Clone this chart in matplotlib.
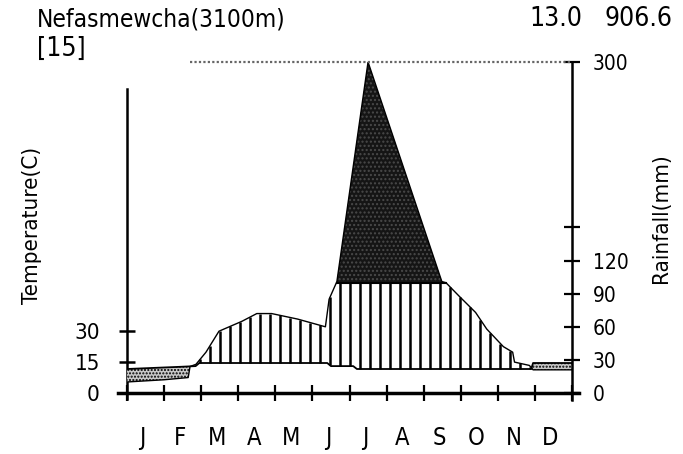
import numpy as np
import matplotlib
matplotlib.use("Agg")
import matplotlib.pyplot as plt

plt.rcParams['font.family'] = ['DejaVu Sans']
plt.rcParams['font.stretch'] = 'condensed'

# ---- data ----
station = "Nefasmewcha(3100m)"
years_label = "[15]"
mean_temp = "13.0"
annual_rain = "906.6"
months = ["J", "F", "M", "A", "M", "J", "J", "A", "S", "O", "N", "D"]

# rainfall trace (x in months from start of Jan, value in mm)
rain_x = [0.0, 1.0, 1.65, 1.7, 1.86, 2.13, 2.48, 3.1, 3.5, 3.9, 4.6, 5.35, 5.45, 5.66,
          6.5, 8.49, 8.6, 8.95, 9.4, 9.7, 10.15, 10.4, 10.45, 10.85, 10.95, 12.0]
rain_mm = [10, 12, 14, 24, 26, 37, 56, 65, 72, 72, 67, 60, 85, 101,
           300, 101, 100, 88, 73, 58, 42, 37, 28, 25, 21, 21]

# temperature trace (x in months, value in deg C)
temp_x = [0.0, 1.0, 1.85, 1.95, 5.4, 5.5, 6.1, 6.2, 10.9, 10.95, 12.0]
temp_c = [11.6, 12.3, 13.0, 14.5, 14.5, 13.0, 13.0, 11.6, 11.6, 14.5, 14.5]

T_TOP = 160.0   # left axis top (deg C)
P_TOP = 300.0   # right axis top (mm)

fig = plt.figure(figsize=(6.83, 4.54), dpi=100)
ax = fig.add_axes([127/683, 61/454, 445/683, 331/454])
ax2 = ax.twinx()

ax.set_xlim(0, 12)
ax.set_ylim(0, T_TOP)
ax2.set_ylim(0, P_TOP)

xs = np.linspace(0, 12, 2401)
P = np.interp(xs, rain_x, rain_mm)
T = np.interp(xs, temp_x, temp_c) * P_TOP / T_TOP   # temperature in rain units

# arid (stippled)
ax2.fill_between(xs, T, P, where=T > P, interpolate=True, facecolor='#c8c8c8',
                 edgecolor='black', hatch='.....', linewidth=0)
# perhumid (black, above 100 mm)
ax2.fill_between(xs, 100, P, where=P > 100, interpolate=True, facecolor='#151515',
                 edgecolor='#4a4a4a', hatch='....', linewidth=0)

# humid: vertical hatch lines between temperature and min(rain,100)
hx = np.arange(0.08, 12, 0.27)
hp = np.minimum(np.interp(hx, rain_x, rain_mm), 100)
ht = np.interp(hx, temp_x, temp_c) * P_TOP / T_TOP
m = hp > ht + 1
ax2.vlines(hx[m], ht[m], hp[m], color='black', lw=1.8)

# outlines
ax2.plot(rain_x, rain_mm, color='black', lw=1.0)
ax2.plot(xs, T, color='black', lw=1.3)
ax2.plot(xs[P >= 100], np.full((P >= 100).sum(), 100), color='black', lw=1.5)

# top dotted line
ax2.plot([1.7, 12], [P_TOP, P_TOP], color='#666666', lw=1.6, ls=(0, (1, 1)), clip_on=False)

# spines
for a in (ax, ax2):
    a.spines['top'].set_visible(False)
ax2.spines['left'].set_visible(False)
ax2.spines['bottom'].set_visible(False)
ax.spines['right'].set_visible(False)
ax.spines['left'].set_bounds(-3, 147)
ax.spines['left'].set_linewidth(1.8)
ax2.spines['right'].set_bounds(-6, P_TOP)
ax2.spines['right'].set_linewidth(1.8)
ax.spines['bottom'].set_bounds(-0.25, 12.2)
ax.spines['bottom'].set_linewidth(2.5)

# x ticks
ax.set_xticks(np.arange(0, 13))
ax.set_xticklabels([])
ax.tick_params(axis='x', which='major', direction='inout', length=12, width=1.6)
ax.set_xticks(np.arange(0.42, 12, 1), minor=True)
ax.set_xticklabels(months, minor=True)
ax.tick_params(axis='x', which='minor', length=0, pad=24, labelsize=17)

# left ticks
ax.set_yticks([0, 15, 30])
ax.set_yticklabels(['0', '15', '30'])
ax.tick_params(axis='y', direction='inout', length=11, width=1.8, labelsize=16, pad=14)

# right ticks
ax2.set_yticks([0, 30, 60, 90, 120, 150, 300])
ax2.set_yticklabels(['0', '30', '60', '90', '120', '', '300'])
ax2.tick_params(axis='y', direction='inout', length=12, width=1.6, labelsize=15, pad=9)

# texts
fig.text(37/683, 1 - 7/454, station, ha='left', va='top', fontsize=17.5)
fig.text(37/683, 1 - 36/454, years_label, ha='left', va='top', fontsize=19)
fig.text(582/683, 1 - 6/454, mean_temp, ha='right', va='top', fontsize=19)
fig.text(672/683, 1 - 6/454, annual_rain, ha='right', va='top', fontsize=19)
fig.text(32/683, 1 - 225/454, "Temperature(C)", rotation=90, ha='center', va='center', fontsize=16)
fig.text(661/683, 1 - 218/454, "Rainfall(mm)", rotation=90, ha='center', va='center', fontsize=16)

fig.savefig("out.png", dpi=100)
